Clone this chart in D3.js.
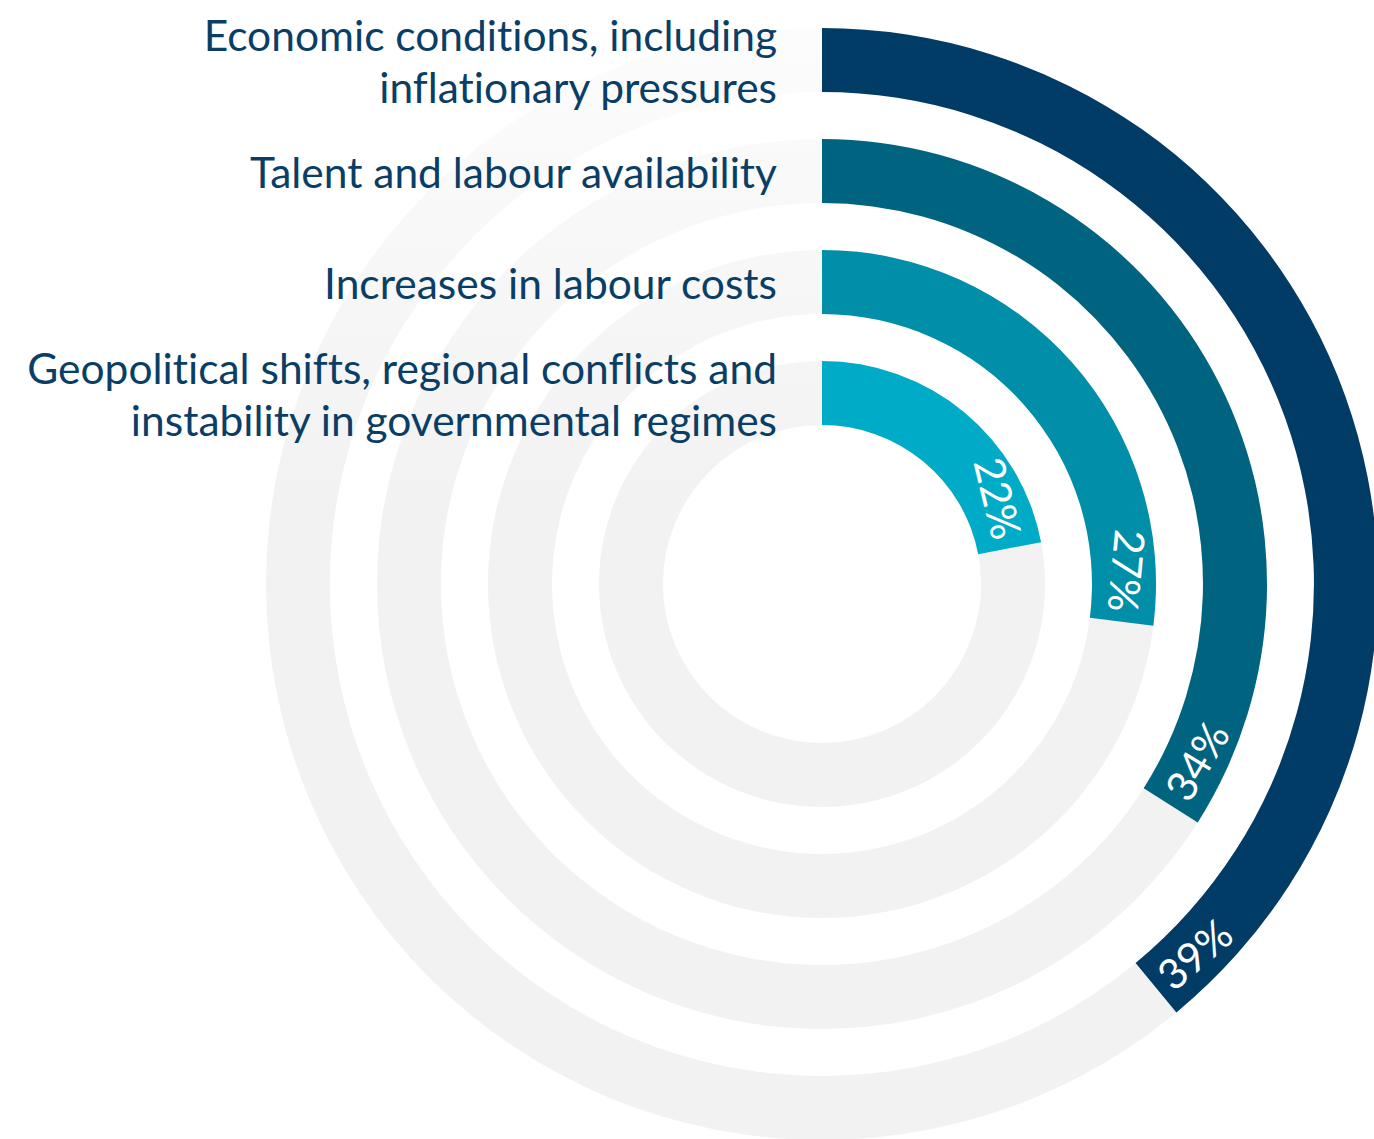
<!DOCTYPE html>
<html lang="en">
<head>
  <meta charset="UTF-8">
  <title>Radial bar chart</title>
  <script src="https://d3js.org/d3.v7.min.js"></script>
  <style>
    body { margin: 0; background: #fff; }
    text { font-family: Lato, "Open Sans", sans-serif; font-variant-ligatures: none; }
  </style>
</head>
<body>
  <div id="chart"></div>
  <script>
    // data, outermost ring first
    const categories = [
      ["Economic conditions, including", "inflationary pressures"],
      ["Talent and labour availability"],
      ["Increases in labour costs"],
      ["Geopolitical shifts, regional conflicts and", "instability in governmental regimes"]
    ];
    const values = [39, 34, 27, 22];
    const colors = ["#003c65", "#006481", "#008ea9", "#00abc7"];

    const width = 1374, height = 1139;
    const cx = 822, cy = 584;

    const svg = d3.select("#chart").append("svg")
      .attr("width", width)
      .attr("height", height);

    // grey track fades out towards the top (coords relative to the centre group)
    const grad = svg.append("defs").append("linearGradient")
      .attr("id", "track")
      .attr("gradientUnits", "userSpaceOnUse")
      .attr("x1", 0).attr("y1", 40 - cy).attr("x2", 0).attr("y2", 500 - cy);
    grad.append("stop").attr("offset", 0).attr("stop-color", "#fcfcfc");
    grad.append("stop").attr("offset", 1).attr("stop-color", "#f2f2f2");

    const keys = d3.range(values.length);

    // radius bands, index 0 is outermost (range reversed, so r(i) is the inner edge)
    const r = d3.scaleBand()
      .domain(keys)
      .range([556, 159])
      .paddingInner(0.423)
      .paddingOuter(0);

    const angle = d3.scaleLinear().domain([0, 100]).range([0, 2 * Math.PI]);

    const g = svg.append("g").attr("transform", `translate(${cx},${cy})`);

    g.selectAll(".track")
      .data(keys)
      .enter().append("path")
        .attr("class", "track")
        .attr("fill", "url(#track)")
        .attr("d", i => d3.arc()
          .innerRadius(r(i))
          .outerRadius(r(i) + r.bandwidth())
          .startAngle(0).endAngle(2 * Math.PI)()
        );

    g.selectAll(".bar")
      .data(keys)
      .enter().append("path")
        .attr("class", "bar")
        .attr("fill", i => colors[i])
        .attr("d", i => d3.arc()
          .innerRadius(r(i))
          .outerRadius(r(i) + r.bandwidth())
          .startAngle(0).endAngle(angle(values[i]))()
        );

    // value labels along the arc, near its end
    const pad = 10;
    g.selectAll(".val")
      .data(keys)
      .enter().append("text")
        .attr("class", "val")
        .attr("fill", "#fff")
        .attr("font-size", 42)
        .attr("dy", "0.36em")
        .attr("transform", i => {
          const rm = r(i) + r.bandwidth() / 2;
          const a = angle(values[i]) - pad / rm;
          const deg = a * 180 / Math.PI;
          const x = rm * Math.sin(a), y = -rm * Math.cos(a);
          const rot = deg > 100 ? deg - 180 : deg;
          return `translate(${x},${y}) rotate(${rot})`;
        })
        .attr("text-anchor", i => angle(values[i]) * 180 / Math.PI > 100 ? "start" : "end")
        .text(i => values[i] + "%");

    // category labels to the left of each ring start
    const lh = 52, fs = 42.5;
    const lab = svg.selectAll(".cat")
      .data(keys)
      .enter().append("text")
        .attr("class", "cat")
        .attr("fill", "#0a3e66")
        .attr("font-size", fs)
        .attr("text-anchor", "end")
        .attr("x", 777)
        .attr("y", i => cy - (r(i) + r.bandwidth() / 2) + fs * 0.36 + 2 - (categories[i].length - 1) * lh / 2);

    lab.selectAll("tspan")
      .data(i => categories[i])
      .enter().append("tspan")
        .attr("x", 777)
        .attr("dy", (d, j) => j === 0 ? 0 : lh)
        .text(d => d);
  </script>
</body>
</html>
